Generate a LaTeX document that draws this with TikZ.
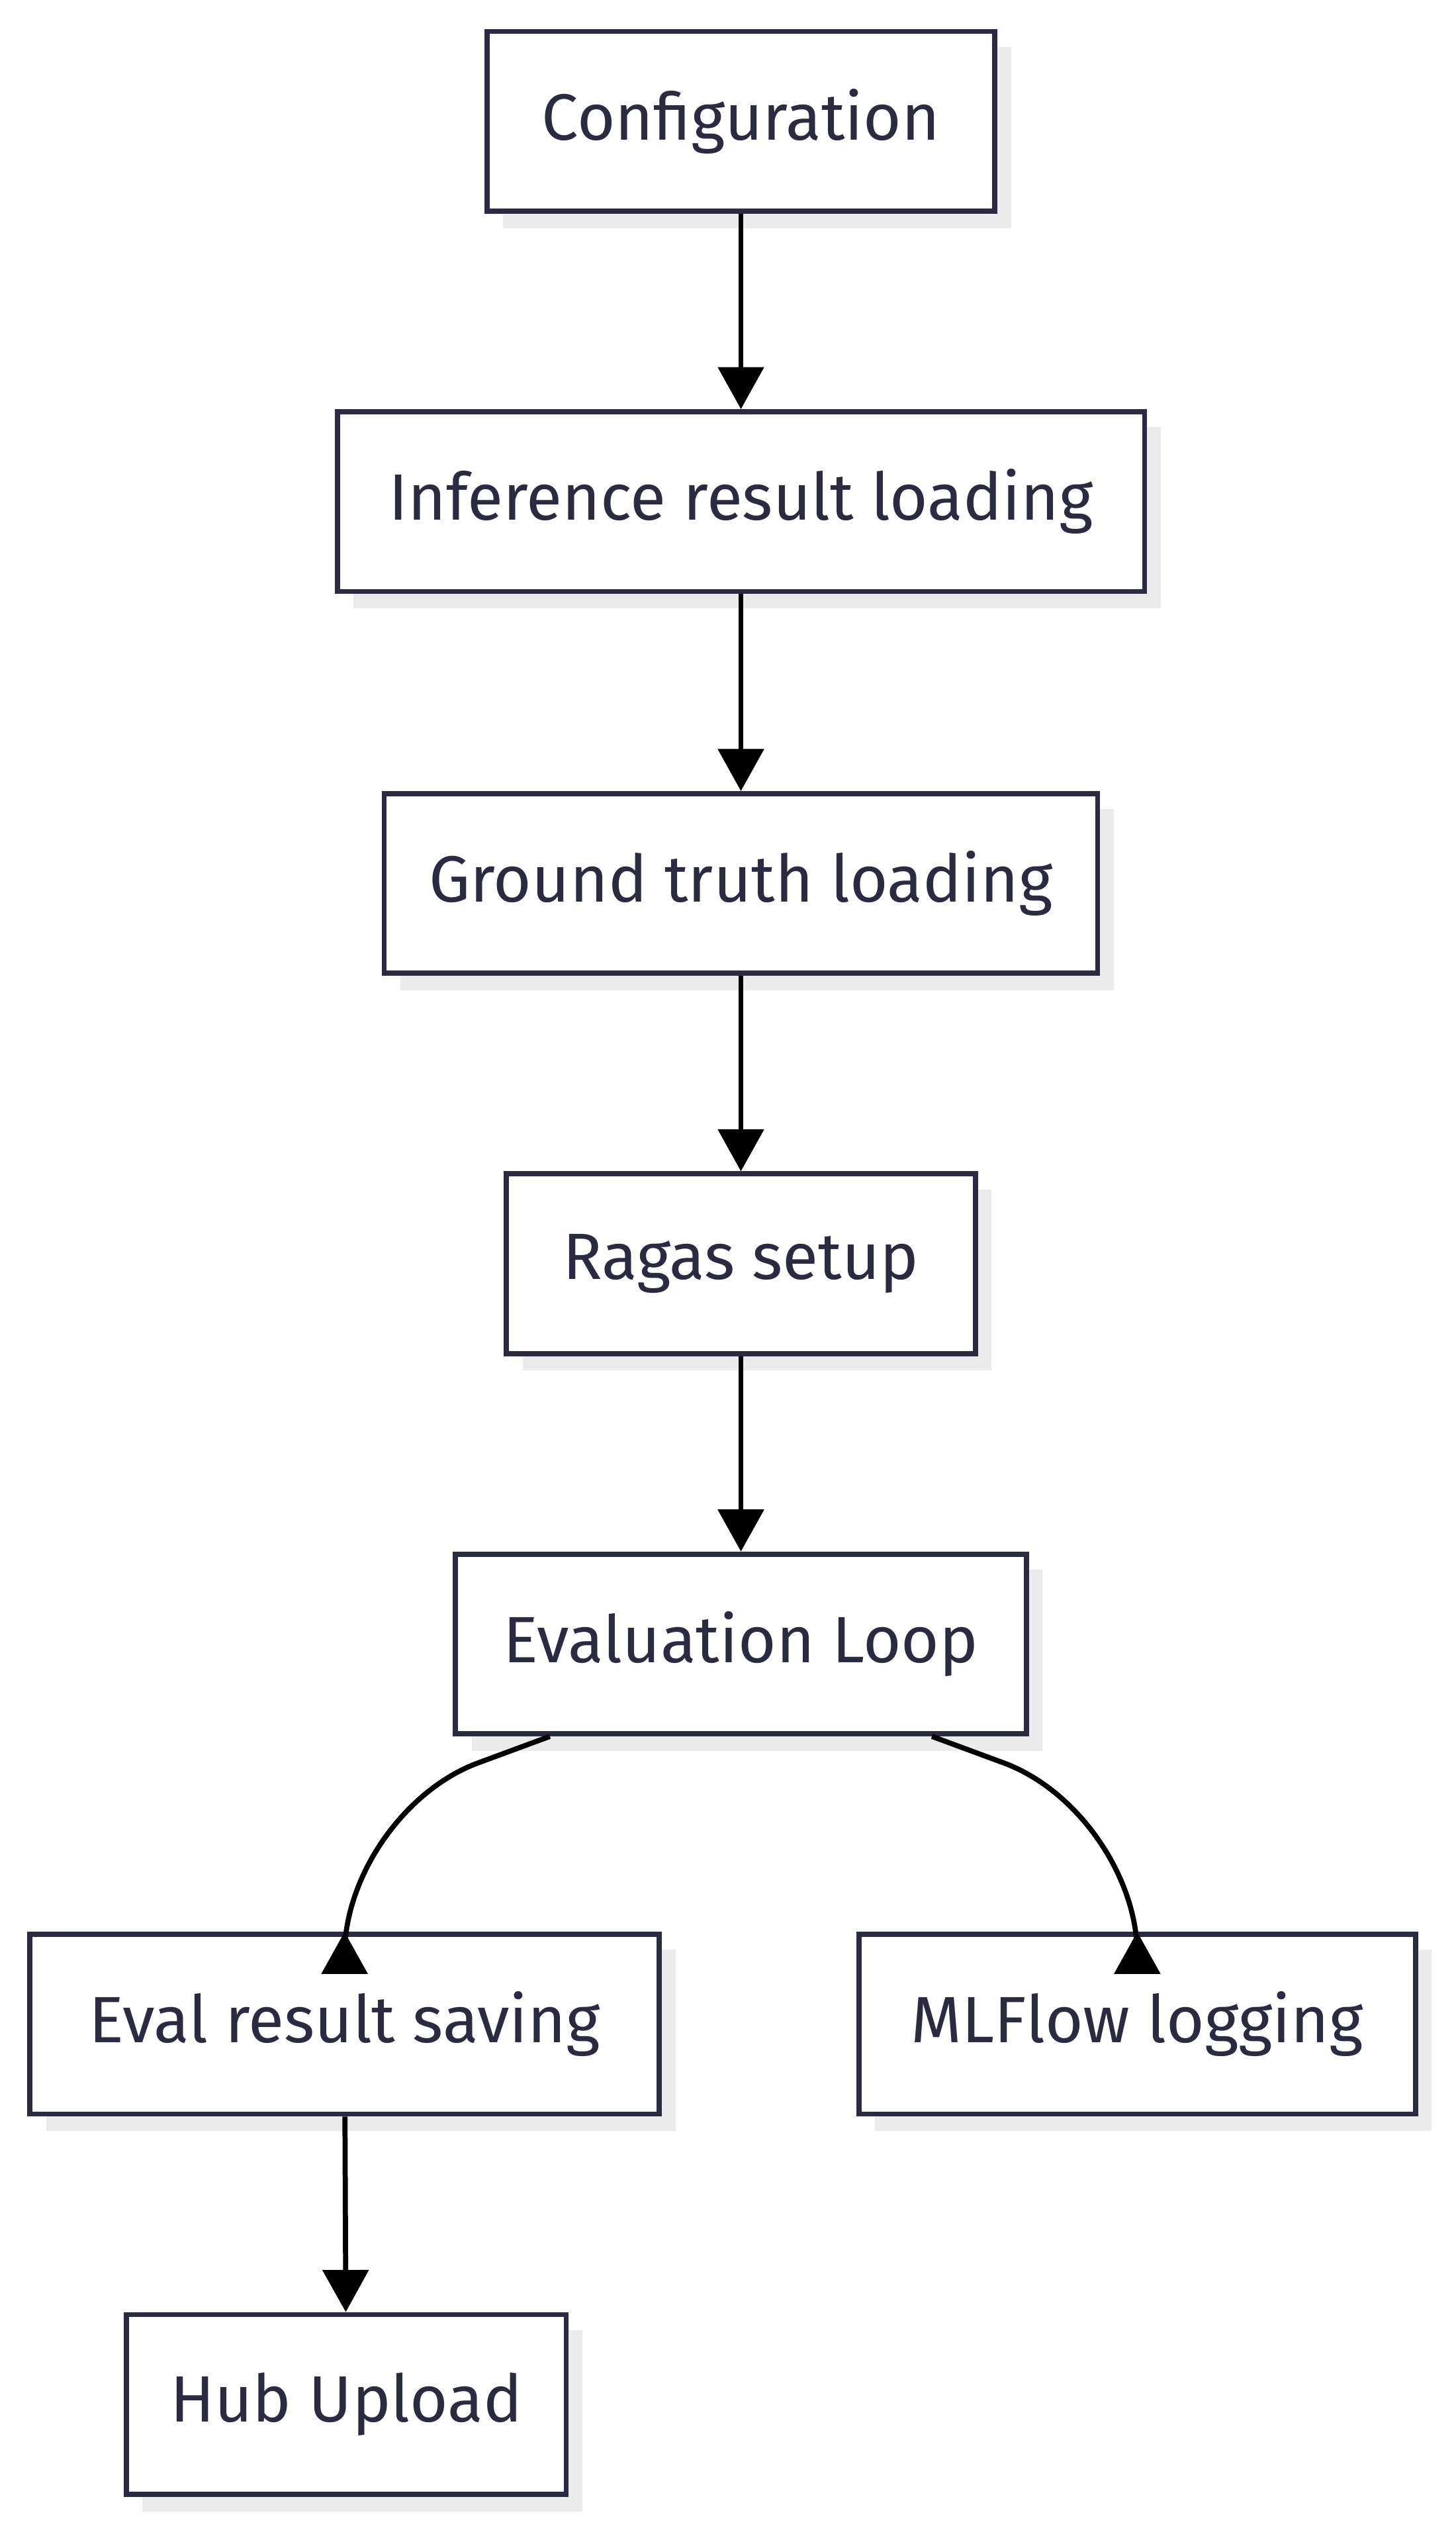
\documentclass[tikz,border=0pt]{standalone}
\usepackage{fontspec}
\setmainfont{Fira Sans}
\usetikzlibrary{arrows.meta,calc}
\definecolor{boxtext}{HTML}{2A2A40}
\definecolor{shadowgray}{HTML}{EBEBEB}
\tikzset{
  stepbox/.style={draw=boxtext, line width=0.9pt, fill=white, text=boxtext,
    minimum height=1.11cm, font=\fontsize{11.5}{14}\selectfont,
    inner sep=0pt},
  flow/.style={line width=0.9pt, -{Triangle[width=0.28cm,length=0.26cm]}},
}
\newcommand*{\StepBox}[4]{% #1 = name, #2 = x/y centre, #3 = width, #4 = text
  \fill[shadowgray] ($(#2)+(-#3/2+10,-46)$) rectangle ($(#2)+(#3/2+10,66)$);
  \node[stepbox, minimum width=#3*0.01cm] (#1) at (#2) {#4};
}
\begin{document}
\begin{tikzpicture}[x=0.01cm,y=-0.01cm]
  \useasboundingbox (0,0) rectangle (900,1571);

  \StepBox{config}{458,75}{314}{Configuration}
  \StepBox{infer}{458,310}{499}{Inference result loading}
  \StepBox{truth}{458,546}{441}{Ground truth loading}
  \StepBox{ragas}{458,781}{290}{Ragas setup}
  \StepBox{evalloop}{458,1016}{353}{Evaluation Loop}
  \StepBox{save}{213,1251}{389}{Eval result saving}
  \StepBox{mlflow}{703,1251}{344}{MLFlow logging}
  \StepBox{hub}{214,1486}{272}{Hub Upload}

  % straight chain
  \draw[flow] (config) -- (infer);
  \draw[flow] (infer) -- (truth);
  \draw[flow] (truth) -- (ragas);
  \draw[flow] (ragas) -- (evalloop);
  \draw[flow] (save) -- (hub);

  % split after the loop
  \coordinate (bendL) at (213,1120);
  \coordinate (bendR) at (703,1120);
  \draw[flow, rounded corners=25] ($(evalloop.south west)+(60,0)$) -- (bendL) -- (save.north);
  \draw[flow, rounded corners=25] ($(evalloop.south east)+(-60,0)$) -- (bendR) -- (mlflow.north);
\end{tikzpicture}
\end{document}
